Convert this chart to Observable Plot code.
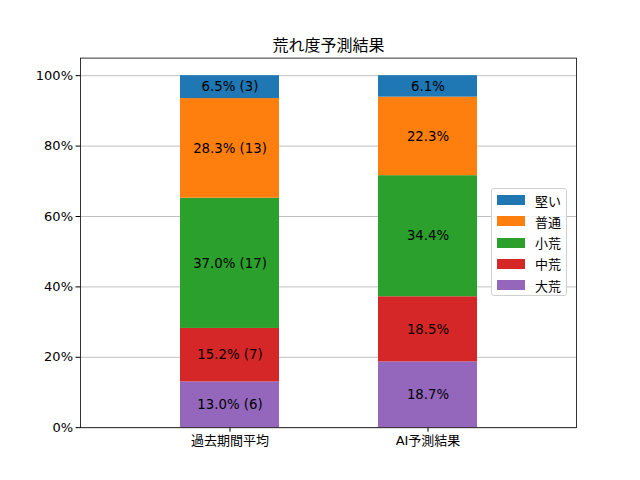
<!DOCTYPE html>
<html><head><meta charset="utf-8">
<script src="https://cdn.jsdelivr.net/npm/d3@7"></script>
<script src="https://cdn.jsdelivr.net/npm/@observablehq/plot@0.6"></script>
<style>
body{margin:0;background:#fff;font-family:"DejaVu Sans","Noto Sans CJK JP",sans-serif;}
#wrap{position:relative;width:640px;height:480px;}
#legend{position:absolute;left:491px;top:188px;width:76px;height:108px;border:1px solid #d0d0d0;border-radius:3px;background:rgba(255,255,255,0.8);box-sizing:border-box;font-size:13px;}
#legend .it{position:absolute;left:5px;height:16px;display:flex;align-items:center;}
#legend .sw{width:28px;height:10px;margin-right:10px;}
</style></head>
<body><div id="wrap"><div id="chart"></div><div id="legend"></div></div>
<script>
const title = "荒れ度予測結果";
const categories = ["過去期間平均", "AI予測結果"];
const levels = ["大荒", "中荒", "小荒", "普通", "堅い"];
const colors = ["#9467bd", "#d62728", "#2ca02c", "#ff7f0e", "#1f77b4"];
const pastValues = [13.0, 15.2, 37.0, 28.3, 6.5];
const pastCounts = [6, 7, 17, 13, 3];
const aiValues = [18.7, 18.5, 34.4, 22.3, 6.1];
const yTicks = [0, 20, 40, 60, 80, 100];

const rows = [];
levels.forEach((lv, i) => rows.push({cat: categories[0], level: lv, value: pastValues[i], label: `${pastValues[i].toFixed(1)}% (${pastCounts[i]})`}));
levels.forEach((lv, i) => rows.push({cat: categories[1], level: lv, value: aiValues[i], label: `${aiValues[i].toFixed(1)}%`}));

const font = "DejaVu Sans, Noto Sans CJK JP, sans-serif";
const chart = Plot.plot({
  width: 640, height: 480,
  marginLeft: 80, marginRight: 64, marginTop: 57.6, marginBottom: 52.8,
  style: {fontFamily: font, fontSize: "13px", color: "#000", background: "#fff"},
  x: {domain: categories, padding: 0.5, paddingOuter: 0.5, label: null, tickSize: 4.5, tickPadding: 4},
  y: {domain: [0, 105], ticks: yTicks, tickFormat: d => d + "%", label: null, tickSize: 4.5, tickPadding: 3},
  color: {domain: levels, range: colors},
  marks: [
    Plot.ruleY(yTicks, {stroke: "#b0b0b0", strokeWidth: 0.8}),
    Plot.barY(rows, Plot.stackY({x: "cat", y: "value", fill: "level"})),
    Plot.text(rows, Plot.stackY({x: "cat", y: "value", text: "label", fill: "#000", fontSize: 13.3})),
    Plot.frame({stroke: "#000", strokeWidth: 0.8}),
    Plot.text([title], {frameAnchor: "top", dy: -18, fontSize: 16, fill: "#000"})
  ]
});
document.getElementById("chart").appendChild(chart);

const legend = document.getElementById("legend");
[...levels].reverse().forEach((lv, i) => {
  const d = document.createElement("div");
  d.className = "it";
  d.style.top = (3 + i * 21.3) + "px";
  d.innerHTML = `<span class="sw" style="background:${colors[levels.indexOf(lv)]}"></span><span>${lv}</span>`;
  legend.appendChild(d);
});
</script></body></html>
